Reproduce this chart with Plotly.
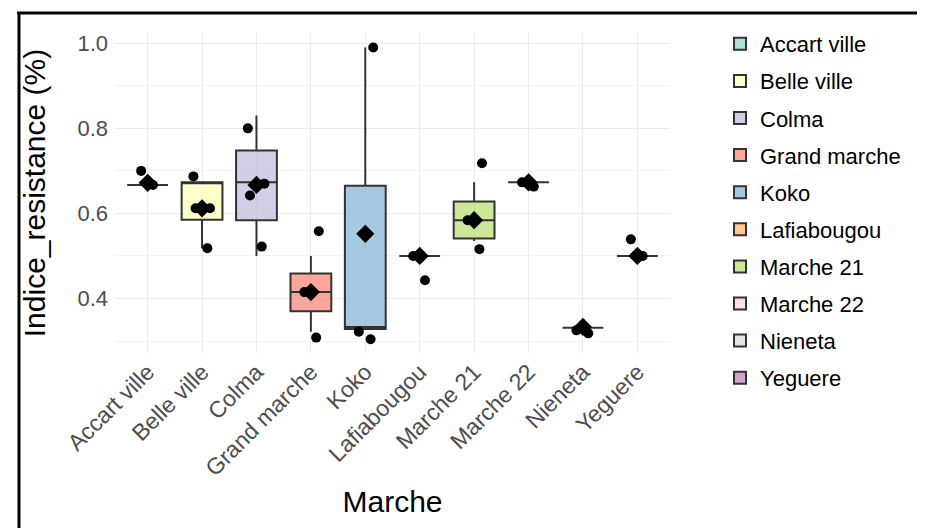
import plotly.graph_objects as go

# ---- data ----
categories = ["Accart ville", "Belle ville", "Colma", "Grand marche", "Koko",
              "Lafiabougou", "Marche 21", "Marche 22", "Nieneta", "Yeguere"]
q1_vals     = [0.667, 0.585, 0.584, 0.370, 0.328, 0.500, 0.541, 0.673, 0.331, 0.500]
median_vals = [0.667, 0.672, 0.673, 0.415, 0.333, 0.500, 0.584, 0.673, 0.331, 0.500]
q3_vals     = [0.667, 0.673, 0.748, 0.459, 0.665, 0.500, 0.628, 0.673, 0.331, 0.500]
lower_vals  = [0.667, 0.518, 0.500, 0.322, 0.328, 0.500, 0.535, 0.673, 0.331, 0.500]
upper_vals  = [0.667, 0.673, 0.830, 0.500, 0.990, 0.500, 0.673, 0.673, 0.331, 0.500]
mean_vals   = [0.672, 0.612, 0.667, 0.415, 0.552, 0.500, 0.584, 0.673, 0.333, 0.500]
point_vals = {
    "Accart ville": [0.667, 0.700],
    "Belle ville": [0.687, 0.612, 0.612, 0.518],
    "Colma": [0.800, 0.670, 0.642, 0.522],
    "Grand marche": [0.558, 0.415, 0.308],
    "Koko": [0.990, 0.304, 0.322],
    "Lafiabougou": [0.500, 0.443],
    "Marche 21": [0.718, 0.584, 0.516],
    "Marche 22": [0.663, 0.673],
    "Nieneta": [0.318, 0.325],
    "Yeguere": [0.539, 0.500],
}
palette = ["#8DD3C7", "#FFFFB3", "#BEBADA", "#FB8072", "#80B1D3",
           "#FDB462", "#B3DE69", "#FCCDE5", "#D9D9D9", "#BC80BD"]
y_ticks = [0.4, 0.6, 0.8, 1.0]


def with_alpha(hex_color, a):
    h = hex_color.lstrip("#")
    r, g, b = int(h[0:2], 16), int(h[2:4], 16), int(h[4:6], 16)
    return f"rgba({r},{g},{b},{a})"


FONT = "Liberation Sans, Arial, sans-serif"
fig = go.Figure()

for i, cat in enumerate(categories):
    fig.add_trace(go.Box(
        x=[cat], q1=[q1_vals[i]], median=[median_vals[i]], q3=[q3_vals[i]],
        lowerfence=[lower_vals[i]], upperfence=[upper_vals[i]],
        name=cat, legendgroup=cat, width=0.75, whiskerwidth=0,
        fillcolor=with_alpha(palette[i], 0.7),
        line=dict(color="#333333", width=2),
        boxpoints=False, hoverinfo="skip",
    ))

for i, cat in enumerate(categories):
    pts = point_vals[cat]
    fig.add_trace(go.Box(
        x=[cat] * len(pts), y=pts, name=cat, legendgroup=cat, showlegend=False,
        boxpoints="all", jitter=0.5, pointpos=0, width=0.75, whiskerwidth=0,
        fillcolor="rgba(0,0,0,0)", line=dict(color="rgba(0,0,0,0)", width=0),
        marker=dict(color="black", size=10), hoverinfo="y",
    ))

fig.add_trace(go.Scatter(
    x=categories, y=mean_vals, mode="markers", showlegend=False,
    marker=dict(symbol="diamond", size=14, color="black"),
))

# plot area geometry (pixels) used for decoration only
L, R, T, B = 107, 662, 25, 345
W, H = R - L, B - T

def px(xp):
    return (xp - L) / W

def py(yp):
    return (B - yp) / H

fig.update_layout(
    width=925, height=528,
    margin=dict(l=L, r=925 - R, t=T, b=528 - B, autoexpand=False),
    paper_bgcolor="white", plot_bgcolor="white",
    boxmode="overlay",
    font=dict(family=FONT, color="#000000"),
    xaxis=dict(
        categoryorder="array", categoryarray=categories,
        range=[-0.6, len(categories) - 0.4],
        tickangle=-45, tickfont=dict(size=23, color="#4D4D4D"),
        showgrid=True, gridcolor="#EBEBEB", gridwidth=1,
        zeroline=False, showline=False, ticks="",
        title=dict(text="Marche", font=dict(size=30, color="#000000"), standoff=10),
    ),
    yaxis=dict(
        range=[0.2718, 1.0242], tickvals=y_ticks, ticktext=[f"{v:.1f}" for v in y_ticks],
        tickfont=dict(size=22, color="#4D4D4D"),
        showgrid=True, gridcolor="#EBEBEB", gridwidth=1.2,
        minor=dict(tickvals=[0.3, 0.5, 0.7, 0.9], showgrid=True, gridcolor="#F3F3F3", gridwidth=0.8),
        zeroline=False, showline=False, ticks="", ticklabelstandoff=6,
        title=dict(text="Indice_resistance (%)", font=dict(size=30, color="#000000"), standoff=22),
    ),
    legend=dict(
        x=712 / 925, y=1 - 15 / 528, xref="container", yref="container",
        xanchor="left", yanchor="top", maxheight=510,
        font=dict(size=22, color="#000000"), tracegroupgap=5.5,
        bgcolor="rgba(0,0,0,0)", itemclick=False, itemdoubleclick=False,
    ),
    shapes=[
        dict(type="line", xref="paper", yref="paper", x0=px(9), x1=px(925), y0=py(5), y1=py(5),
             line=dict(color="black", width=3)),
        dict(type="line", xref="paper", yref="paper", x0=px(11), x1=px(11), y0=py(4), y1=py(528),
             line=dict(color="black", width=3)),
    ],
)

fig.write_html("out.html")
